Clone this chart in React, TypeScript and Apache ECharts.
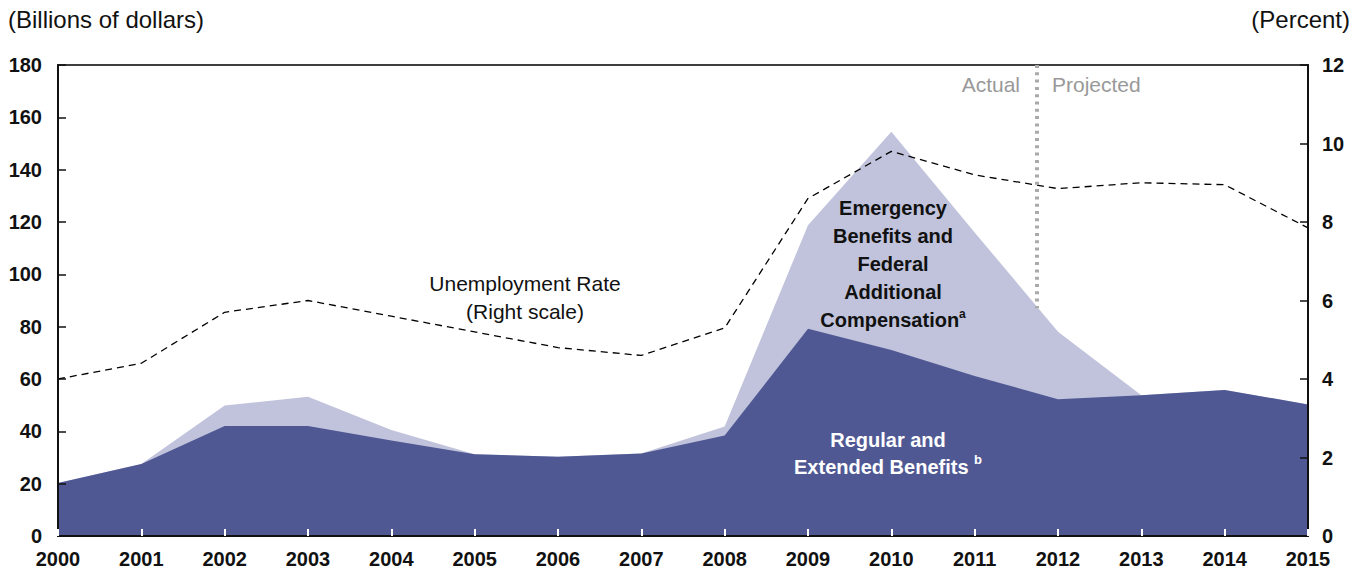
import React, { useEffect, useRef } from "react";
import * as echarts from "echarts";

const years = [2000, 2001, 2002, 2003, 2004, 2005, 2006, 2007, 2008, 2009, 2010, 2011, 2012, 2013, 2014, 2015];
const regularBenefits = [20.3, 27.5, 42.0, 42.0, 36.5, 31.2, 30.3, 31.5, 38.4, 79.2, 71.1, 61.1, 52.3, 53.8, 55.8, 50.3];
const emergencyBenefits = [0, 0, 7.9, 11.2, 4.0, 0, 0, 0, 3.4, 39.6, 83.4, 54.9, 25.8, 0, 0, 0];
const unemploymentRate = [4.0, 4.4, 5.7, 6.0, 5.6, 5.2, 4.8, 4.6, 5.3, 8.6, 9.8, 9.2, 8.85, 9.0, 8.95, 7.85];
const leftTicks = { min: 0, max: 180, interval: 20 };
const rightTicks = { min: 0, max: 12, interval: 2 };
const projectionStart = 2011.75;

const FONT = '"Liberation Sans", Arial, sans-serif';
const DARK = "#4F5893";
const LIGHT = "#C0C3DB";

export default function App() {
  const ref = useRef<HTMLDivElement>(null);
  useEffect(() => {
    if (!ref.current) return;
    const chart = echarts.init(ref.current, undefined, { renderer: "svg" });
    const axisLabel = { color: "#111", fontFamily: FONT, fontWeight: "bold" as const, fontSize: 20 };
    // light area drawn as the top of the stack: regular + emergency
    const totalBenefits = years.map((y, i) => [y, regularBenefits[i] + emergencyBenefits[i]]);
    chart.setOption({
      animation: false,
      grid: { left: 58, right: 56, top: 65, bottom: 40, show: true, borderColor: "#000", borderWidth: 1.5, backgroundColor: "transparent" },
      xAxis: {
        type: "value",
        min: years[0],
        max: years[years.length - 1],
        interval: 1,
        z: 5,
        axisLine: { show: true, lineStyle: { color: "#111", width: 2 } },
        axisTick: { show: true, inside: true, length: 7, lineStyle: { color: "#fff", width: 2 } },
        splitLine: { show: false },
        axisLabel: { ...axisLabel, margin: 13, formatter: (v: number) => String(v) },
      },
      yAxis: [
        {
          type: "value",
          ...leftTicks,
          position: "left",
          z: 5,
          axisLine: { show: true, lineStyle: { color: "#111", width: 2 } },
          axisTick: { show: true, inside: true, length: 8, lineStyle: { color: "#111", width: 1.5 } },
          splitLine: { show: false },
          axisLabel: { ...axisLabel, margin: 16 },
        },
        {
          type: "value",
          ...rightTicks,
          position: "right",
          z: 5,
          axisLine: { show: true, lineStyle: { color: "#111", width: 2 } },
          axisTick: { show: true, inside: true, length: 8, lineStyle: { color: "#111", width: 1.5 } },
          splitLine: { show: false },
          axisLabel: { ...axisLabel, margin: 14 },
        },
      ],
      series: [
        {
          name: "Emergency Benefits and Federal Additional Compensation",
          type: "line",
          yAxisIndex: 0,
          data: totalBenefits,
          symbol: "none",
          lineStyle: { width: 0 },
          areaStyle: { color: LIGHT, opacity: 1 },
          z: 1,
          markLine: {
            silent: true,
            symbol: "none",
            label: { show: false },
            lineStyle: { color: "#aaa", width: 4, type: [3, 4.3] },
            data: [[{ coord: [projectionStart, 180] }, { coord: [projectionStart, 87] }]],
          },
        },
        {
          name: "Regular and Extended Benefits",
          type: "line",
          yAxisIndex: 0,
          data: years.map((y, i) => [y, regularBenefits[i]]),
          symbol: "none",
          lineStyle: { width: 0 },
          areaStyle: { color: DARK, opacity: 1 },
          z: 2,
        },
        {
          name: "Unemployment Rate",
          type: "line",
          yAxisIndex: 1,
          data: years.map((y, i) => [y, unemploymentRate[i]]),
          symbol: "none",
          lineStyle: { color: "#000", width: 1.3, type: [7, 5] },
          z: 4,
        },
      ],
      graphic: [
        { type: "text", left: 8, top: 7, style: { text: "(Billions of dollars)", font: `24px ${FONT}`, fill: "#111" } },
        { type: "text", right: 14, top: 7, style: { text: "(Percent)", font: `24px ${FONT}`, fill: "#111" } },
        { type: "text", x: 1020, y: 84, style: { text: "Actual", font: `21px ${FONT}`, fill: "#999", align: "right", textAlign: "right", verticalAlign: "middle", textVerticalAlign: "middle" } },
        { type: "text", x: 1052, y: 84, style: { text: "Projected", font: `21px ${FONT}`, fill: "#999", align: "left", textAlign: "left", verticalAlign: "middle", textVerticalAlign: "middle" } },
        { type: "text", x: 525, y: 297, z: 10, style: { text: "Unemployment Rate\n(Right scale)", font: `21px ${FONT}`, lineHeight: 28, fill: "#111", align: "center", textAlign: "center", verticalAlign: "middle", textVerticalAlign: "middle" } },
        {
          type: "text", x: 893, y: 264, z: 10,
          style: {
            text: "Emergency\nBenefits and\nFederal\nAdditional\nCompensation{sup|a}",
            font: `bold 20px ${FONT}`, lineHeight: 28, fill: "#111",
            align: "center", textAlign: "center", verticalAlign: "middle", textVerticalAlign: "middle",
            rich: { sup: { font: `bold 12px ${FONT}`, fill: "#111", verticalAlign: "top", lineHeight: 28, padding: [2, 0, 0, 0] } },
          },
        },
        {
          type: "text", x: 888, y: 453, z: 10,
          style: {
            text: "Regular and\nExtended Benefits {sup|b}",
            font: `bold 20px ${FONT}`, lineHeight: 27, fill: "#fff",
            align: "center", textAlign: "center", verticalAlign: "middle", textVerticalAlign: "middle",
            rich: { sup: { font: `bold 13px ${FONT}`, fill: "#fff", verticalAlign: "top", lineHeight: 27, padding: [0, 0, 0, 0] } },
          },
        },
      ],
    });
    return () => chart.dispose();
  }, []);
  return <div ref={ref} style={{ position: "fixed", left: 0, top: 0, width: 1364, height: 576, background: "#fff" }} />;
}
